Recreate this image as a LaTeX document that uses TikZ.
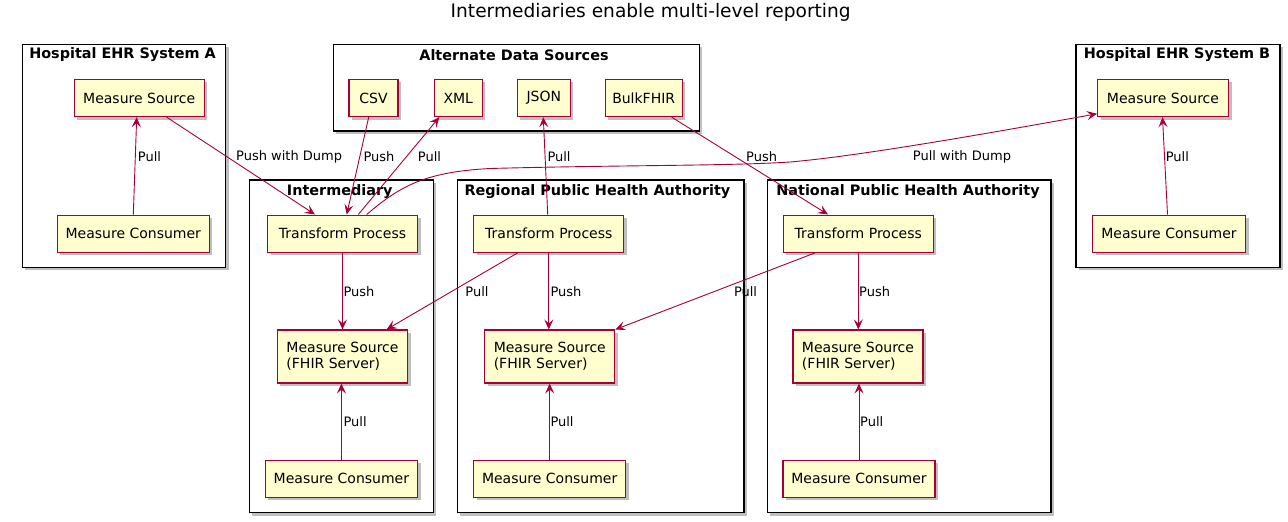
\documentclass[tikz,border=0pt]{standalone}
\usepackage{fontspec}
\setmainfont{DejaVu Sans}
\usetikzlibrary{arrows.meta,shadows}
\definecolor{umlred}{HTML}{A80036}
\definecolor{umlfill}{HTML}{FEFECE}
\tikzset{
  shad/.style={drop shadow={shadow xshift=3pt,shadow yshift=-3pt,fill=black,opacity=0.25}},
  umlbox/.style={draw=umlred,fill=umlfill,line width=1.1pt,shad,inner xsep=3pt,inner ysep=2pt,
    minimum height=37.3pt,font=\fontsize{14}{16.3}\selectfont,text=black},
  fhirbox/.style={umlbox,minimum height=53pt,align=left},
  grp/.style={draw=black,fill=white,line width=1.4pt,shad},
  grptitle/.style={font=\bfseries\fontsize{14.4}{16}\selectfont,inner sep=0pt},
  edge/.style={draw=umlred,line width=0.9pt,-{Stealth[length=10pt,width=9pt,inset=4pt]}},
  lbl/.style={font=\fontsize{13}{15}\selectfont,inner sep=0pt,anchor=west}
}
\begin{document}
\begin{tikzpicture}[x=1pt,y=-1pt]
\useasboundingbox (0,0) rectangle (1288,522);
\node[font=\fontsize{18.6}{21}\selectfont,inner sep=0pt] (title) at (650.7,12) {Intermediaries enable multi-level reporting};

% groups
\draw[grp] (22.3,44.3) rectangle (225.7,267.3);
\draw[grp] (333.3,44.3) rectangle (699.3,131);
\draw[grp] (1076,44.3) rectangle (1280,267.3);
\draw[grp] (249.3,180) rectangle (433.3,512.5);
\draw[grp] (457.2,180) rectangle (744,512.5);
\draw[grp] (767.3,180) rectangle (1051,512.5);
\node[grptitle] (tA) at (122.5,55) {Hospital EHR System A};
\node[grptitle] (tADS) at (514,55) {Alternate Data Sources};
\node[grptitle] (tB) at (1177,55) {Hospital EHR System B};
\node[grptitle] (tI) at (339.7,191.5) {Intermediary};
\node[grptitle] (tR) at (597.4,191.5) {Regional Public Health Authority};
\node[grptitle] (tN) at (908,191.5) {National Public Health Authority};

% nodes
\node[umlbox,minimum width=130.3pt] (AS) at (139.2,98) {Measure Source};
\node[umlbox,minimum width=152pt] (AC) at (133.3,233.7) {Measure Consumer};
\node[umlbox,minimum width=49pt] (CSV) at (373.5,98) {CSV};
\node[umlbox,minimum width=48pt] (XML) at (458.3,98) {XML};
\node[umlbox,minimum width=53pt] (JSON) at (543.8,98) {JSON};
\node[umlbox,minimum width=77.3pt] (BULK) at (643.7,98) {BulkFHIR};
\node[umlbox,minimum width=131pt] (BS) at (1163,98) {Measure Source};
\node[umlbox,minimum width=153pt] (BC) at (1169,233.7) {Measure Consumer};
\node[umlbox,minimum width=150pt] (IT) at (342.5,233.7) {Transform Process};
\node[fhirbox,minimum width=130.7pt] (IS) at (342.5,356.5) {Measure Source\\(FHIR Server)};
\node[umlbox,minimum width=152.4pt] (IC) at (341.4,478.7) {Measure Consumer};
\node[umlbox,minimum width=150pt] (RT) at (548.8,233.7) {Transform Process};
\node[fhirbox,minimum width=130pt] (RS) at (549.8,356.5) {Measure Source\\(FHIR Server)};
\node[umlbox,minimum width=151.7pt] (RC) at (549.7,478.7) {Measure Consumer};
\node[umlbox,minimum width=150.3pt] (NT) at (858.3,233.7) {Transform Process};
\node[fhirbox,minimum width=130pt] (NS) at (858,356.5) {Measure Source\\(FHIR Server)};
\node[umlbox,minimum width=152pt] (NC) at (859,478.7) {Measure Consumer};

% edges
\draw[edge] (AC.north) -- ([xshift=-2.5pt]AS.south);
\draw[edge] ([xshift=-1.5pt]BC.north) -- ([xshift=-0.5pt]BS.south);
\draw[edge] ([xshift=27.5pt]AS.south) -- ([xshift=-27.5pt]IT.north);
\draw[edge] ([xshift=-4.8pt]CSV.south) -- ([xshift=4.2pt]IT.north);
\draw[edge] ([xshift=15.8pt]IT.north) -- ([xshift=-19pt]XML.south);
\draw[edge] ([xshift=-1.1pt]RT.north) -- ([xshift=-0.5pt]JSON.south);
\draw[edge] ([xshift=28pt]BULK.south) -- ([xshift=-30.3pt]NT.north);
\draw[edge] ([xshift=24.2pt]IT.north) .. controls (400,186) and (425,172) .. (490,168.5)
  .. controls (620,165) and (730,166) .. (790,162)
  .. controls (860,156) and (990,133) .. ([yshift=3.4pt]BS.south west);
\draw[edge] (IT.south) -- (IS.north);
\draw[edge] ([xshift=-31.2pt]RT.south) -- ([xshift=44.1pt]IS.north);
\draw[edge] (RT.south) -- (RT.south |- RS.north);
\draw[edge] ([xshift=-43.3pt]NT.south) -- (RS.north east);
\draw[edge] (NT.south) -- (NT.south |- NS.north);
\draw[edge] (IC.north) -- (IC.north |- IS.south);
\draw[edge] (RC.north) -- (RC.north |- RS.south);
\draw[edge] (NC.north) -- (NC.north |- NS.south);

% labels
\node[lbl] (l1) at (137.7,156.7) {Pull};
\node[lbl] (l2) at (236,156.7) {Push with Dump};
\node[lbl] (l3) at (363.3,156.7) {Push};
\node[lbl] (l4) at (417.7,156.7) {Pull};
\node[lbl] (l5) at (547.3,156.7) {Pull};
\node[lbl] (l6) at (746,156.7) {Push};
\node[lbl] (l7) at (912.7,156.7) {Pull with Dump};
\node[lbl] (l8) at (1165.6,156.7) {Pull};
\node[lbl] (l9) at (343.4,292) {Push};
\node[lbl] (l10) at (465.2,292) {Pull};
\node[lbl] (l11) at (550.3,292) {Push};
\node[lbl] (l12) at (733.8,292) {Pull};
\node[lbl] (l13) at (859,292) {Push};
\node[lbl] (l14) at (343.4,422) {Pull};
\node[lbl] (l15) at (550.3,422) {Pull};
\node[lbl] (l16) at (860,422) {Pull};
\end{tikzpicture}
\end{document}
